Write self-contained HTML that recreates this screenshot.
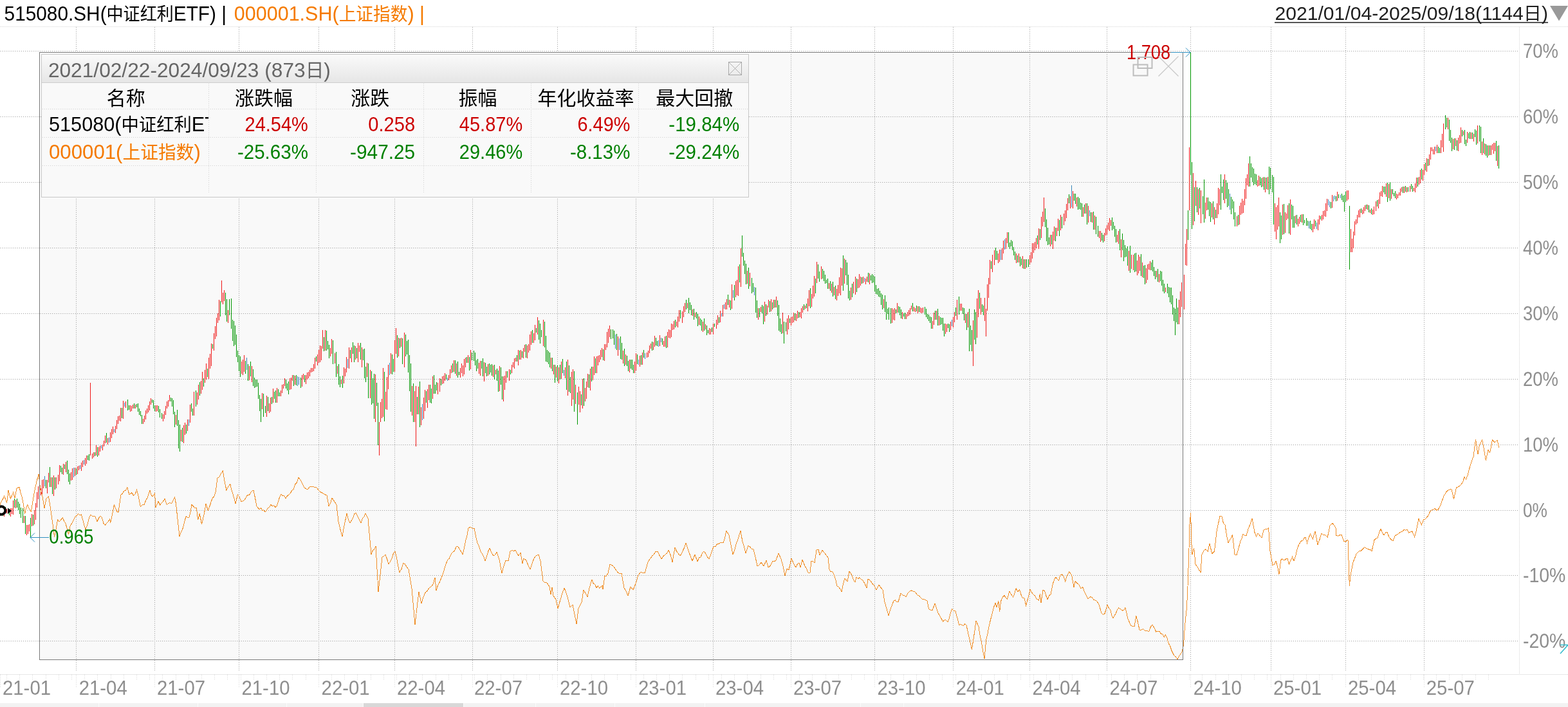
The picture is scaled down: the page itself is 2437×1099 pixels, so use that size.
<!DOCTYPE html>
<html><head><meta charset="utf-8"><title>515080.SH</title>
<style>html,body{margin:0;padding:0;background:#fff;width:2437px;height:1099px;overflow:hidden;position:relative}</style>
</head><body>
<svg width="2437" height="1099" viewBox="0 0 2437 1099" style="position:absolute;left:0;top:0;display:block">
<rect x="0" y="0" width="2437" height="1099" fill="#ffffff"/>
<rect x="63" y="83" width="1774" height="941" fill="#f9f9f9"/>
<path d="M0 79.5H2361M0 181.5H2361M0 283.5H2361M0 385.5H2361M0 487.5H2361M0 589.5H2361M0 691.5H2361M0 793.5H2361M0 894.5H2361M0 996.5H2361" stroke="#9c9c9c" stroke-width="1" stroke-dasharray="1 2" fill="none" shape-rendering="crispEdges"/>
<path d="M118.5 42V1044M240.5 42V1044M371.5 42V1044M495.5 42V1044M613.5 42V1044M734.5 42V1044M866.5 42V1044M988.5 42V1044M1108.5 42V1044M1229.5 42V1044M1359.5 42V1044M1481.5 42V1044M1600.5 42V1044M1720.5 42V1044M1850.5 42V1044M1975.5 42V1044M2091.5 42V1044M2213.5 42V1044" stroke="#9c9c9c" stroke-width="1" stroke-dasharray="1 2" fill="none" shape-rendering="crispEdges"/>
<path d="M0 41.5H2437M2361.5 42V1047" stroke="#d8d8d8" stroke-width="1" stroke-dasharray="1 1" fill="none" shape-rendering="crispEdges"/>
<path d="M0 1048.5H2437" stroke="#d0d0d0" stroke-width="1" stroke-dasharray="1 1" shape-rendering="crispEdges"/>
<path d="M10.5 1049V1056M30.5 1049V1056M50.5 1049V1056M71.5 1049V1056M91.5 1049V1056M111.5 1049V1056M131.5 1049V1056M151.5 1049V1056M172.5 1049V1056M192.5 1049V1056M212.5 1049V1056M232.5 1049V1056M252.5 1049V1056M273.5 1049V1056M293.5 1049V1056M313.5 1049V1056M333.5 1049V1056M353.5 1049V1056M374.5 1049V1056M394.5 1049V1056M414.5 1049V1056M434.5 1049V1056M454.5 1049V1056M475.5 1049V1056M495.5 1049V1056M515.5 1049V1056M535.5 1049V1056M555.5 1049V1056M576.5 1049V1056M596.5 1049V1056M616.5 1049V1056M636.5 1049V1056M656.5 1049V1056M677.5 1049V1056M697.5 1049V1056M717.5 1049V1056M737.5 1049V1056M757.5 1049V1056M778.5 1049V1056M798.5 1049V1056M818.5 1049V1056M838.5 1049V1056M858.5 1049V1056M879.5 1049V1056M899.5 1049V1056M919.5 1049V1056M939.5 1049V1056M959.5 1049V1056M980.5 1049V1056M1000.5 1049V1056M1020.5 1049V1056M1040.5 1049V1056M1060.5 1049V1056M1081.5 1049V1056M1101.5 1049V1056M1121.5 1049V1056M1141.5 1049V1056M1161.5 1049V1056M1182.5 1049V1056M1202.5 1049V1056M1222.5 1049V1056M1242.5 1049V1056M1262.5 1049V1056M1283.5 1049V1056M1303.5 1049V1056M1323.5 1049V1056M1343.5 1049V1056M1363.5 1049V1056M1384.5 1049V1056M1404.5 1049V1056M1424.5 1049V1056M1444.5 1049V1056M1464.5 1049V1056M1485.5 1049V1056M1505.5 1049V1056M1525.5 1049V1056M1545.5 1049V1056M1565.5 1049V1056M1586.5 1049V1056M1606.5 1049V1056M1626.5 1049V1056M1646.5 1049V1056M1666.5 1049V1056M1687.5 1049V1056M1707.5 1049V1056M1727.5 1049V1056M1747.5 1049V1056M1767.5 1049V1056M1788.5 1049V1056M1808.5 1049V1056M1828.5 1049V1056M1848.5 1049V1056M1868.5 1049V1056M1889.5 1049V1056M1909.5 1049V1056M1929.5 1049V1056M1949.5 1049V1056M1969.5 1049V1056M1990.5 1049V1056M2010.5 1049V1056M2030.5 1049V1056M2050.5 1049V1056M2070.5 1049V1056M2091.5 1049V1056M2111.5 1049V1056M2131.5 1049V1056M2151.5 1049V1056M2171.5 1049V1056M2192.5 1049V1056M2212.5 1049V1056M2232.5 1049V1056M2252.5 1049V1056M2272.5 1049V1056M2293.5 1049V1056M2313.5 1049V1056M0.5 1049V1068M118.5 1049V1068M240.5 1049V1068M371.5 1049V1068M495.5 1049V1068M613.5 1049V1068M734.5 1049V1068M866.5 1049V1068M988.5 1049V1068M1108.5 1049V1068M1229.5 1049V1068M1359.5 1049V1068M1481.5 1049V1068M1600.5 1049V1068M1720.5 1049V1068M1850.5 1049V1068M1975.5 1049V1068M2091.5 1049V1068M2213.5 1049V1068" stroke="#d4d4d4" stroke-width="1" stroke-dasharray="1 2" fill="none" shape-rendering="crispEdges"/>
<path d="M47.5 805V835M279.5 660V702M405.5 620V656M1826.5 480V521M1846.5 327V373M1850.5 81V272M1860.5 291V330M1869.5 305V333M1897.5 271V326M1972.5 259V302M2246.5 179V201M4.5 790V802M8.5 788V798M12.5 791V797M14.5 791V801M22.5 775V789M26.5 775V789M28.5 780V793M30.5 783V799M32.5 789V805M35.5 790V813M39.5 802V830M51.5 800V817M61.5 761V772M71.5 746V759M77.5 726V757M81.5 742V768M85.5 742V761M94.5 724V734M96.5 727V737M100.5 722V729M104.5 716V737M106.5 730V749M108.5 736V753M118.5 728V738M136.5 708V715M138.5 706V716M147.5 703V709M151.5 695V710M165.5 673V688M189.5 634V650M198.5 621V638M200.5 630V637M208.5 627V635M212.5 628V633M214.5 627V640M216.5 635V645M218.5 639V647M220.5 645V659M236.5 621V626M238.5 622V635M240.5 630V639M246.5 631V641M248.5 636V649M251.5 642V651M265.5 618V624M267.5 619V632M269.5 622V644M271.5 640V664M275.5 637V662M277.5 653V697M283.5 665V687M289.5 660V674M297.5 627V640M299.5 635V646M304.5 607V632M310.5 594V615M316.5 588V601M322.5 573V586M330.5 535V542M342.5 468V492M350.5 455V490M352.5 465V500M356.5 465V490M359.5 464V511M361.5 497V530M363.5 499V538M365.5 506V536M367.5 520V555M369.5 545V563M371.5 552V577M373.5 554V586M381.5 561V581M385.5 566V592M389.5 562V585M393.5 574V600M395.5 587V603M397.5 590V602M399.5 590V601M401.5 595V620M403.5 614V639M409.5 612V648M412.5 631V642M416.5 617V639M422.5 617V628M426.5 609V620M428.5 607V626M432.5 605V616M434.5 610V616M444.5 590V604M446.5 596V607M448.5 593V613M456.5 583V600M460.5 583V599M467.5 587V603M473.5 583V594M491.5 554V562M503.5 524V546M507.5 514V545M509.5 530V543M511.5 536V557M517.5 529V566M522.5 547V586M526.5 566V598M528.5 585V602M532.5 584V603M544.5 544V557M548.5 532V550M550.5 537V563M554.5 541V557M560.5 533V559M564.5 543V560M566.5 542V588M568.5 570V594M572.5 565V619M577.5 577V629M579.5 588V627M581.5 581V651M585.5 595V631M587.5 626V692M597.5 578V655M609.5 551V582M611.5 558V578M617.5 521V556M621.5 526V541M625.5 526V566M630.5 520V554M632.5 530V551M634.5 528V579M636.5 552V608M638.5 565V640M642.5 596V656M648.5 617V644M652.5 593V664M662.5 608V626M668.5 598V626M670.5 604V627M674.5 583V612M676.5 598V612M678.5 594V607M685.5 589V599M693.5 582V590M703.5 565V579M707.5 560V581M711.5 562V587M713.5 578V583M725.5 555V564M729.5 555V576M733.5 548V560M736.5 545V561M738.5 548V568M740.5 560V577M742.5 558V573M748.5 561V573M750.5 557V585M754.5 564V580M756.5 570V585M760.5 565V582M762.5 567V579M764.5 566V584M768.5 567V590M772.5 573V592M774.5 576V609M778.5 571V598M780.5 585V621M788.5 577V587M793.5 575V582M803.5 552V562M807.5 545V559M811.5 546V556M817.5 535V556M827.5 513V533M833.5 510V517M837.5 498V528M839.5 503V534M841.5 513V524M846.5 500V540M848.5 522V562M850.5 544V563M852.5 546V566M854.5 548V571M858.5 556V577M862.5 567V595M866.5 568V593M870.5 567V590M874.5 558V580M880.5 562V606M884.5 568V609M886.5 586V611M892.5 577V640M897.5 610V660M903.5 613V630M907.5 588V631M915.5 582V603M919.5 570V593M925.5 557V580M937.5 543V560M949.5 512V527M952.5 512V526M954.5 514V536M958.5 519V544M964.5 523V558M966.5 533V559M970.5 542V569M974.5 553V569M976.5 561V577M980.5 559V573M982.5 559V575M984.5 567V580M990.5 551V566M996.5 552V567M1000.5 544V556M1013.5 531V545M1019.5 525V537M1021.5 530V538M1029.5 526V536M1035.5 522V541M1049.5 497V509M1057.5 482V495M1066.5 466V481M1070.5 463V487M1072.5 470V482M1074.5 474V490M1078.5 480V497M1082.5 485V495M1084.5 488V507M1088.5 495V506M1090.5 497V514M1094.5 495V514M1098.5 506V521M1100.5 513V518M1106.5 509V516M1110.5 503V508M1117.5 493V502M1131.5 458V474M1135.5 467V482M1141.5 443V467M1149.5 411V439M1153.5 366V399M1155.5 393V413M1157.5 405V426M1159.5 410V442M1163.5 416V449M1168.5 432V456M1170.5 440V454M1174.5 447V486M1176.5 467V494M1180.5 479V493M1184.5 474V487M1186.5 476V504M1190.5 473V491M1196.5 468V485M1200.5 470V481M1204.5 466V478M1208.5 467V491M1210.5 474V514M1212.5 495V516M1214.5 504V519M1218.5 500V534M1221.5 501V515M1227.5 495V502M1235.5 487V498M1241.5 485V494M1249.5 473V482M1253.5 472V479M1259.5 448V479M1267.5 433V456M1271.5 411V433M1273.5 422V438M1278.5 418V433M1280.5 421V437M1282.5 427V441M1284.5 435V440M1286.5 433V449M1290.5 437V452M1294.5 438V461M1298.5 444V465M1310.5 397V452M1314.5 404V428M1316.5 408V443M1318.5 427V464M1320.5 452V467M1324.5 441V462M1331.5 433V454M1339.5 431V441M1349.5 424V439M1353.5 428V436M1355.5 426V440M1357.5 428V439M1359.5 430V453M1361.5 443V457M1363.5 449V458M1365.5 448V461M1367.5 452V462M1369.5 456V474M1371.5 458V481M1375.5 459V485M1377.5 469V497M1379.5 480V488M1381.5 478V497M1384.5 479V503M1392.5 481V487M1396.5 476V486M1398.5 477V490M1400.5 481V495M1404.5 487V492M1406.5 486V496M1418.5 471V484M1424.5 475V484M1428.5 476V485M1437.5 477V489M1439.5 480V493M1441.5 488V496M1443.5 489V499M1445.5 492V502M1447.5 493V511M1453.5 483V497M1457.5 480V506M1461.5 493V505M1463.5 494V504M1465.5 494V514M1467.5 503V523M1473.5 503V510M1475.5 504V516M1485.5 478V491M1490.5 461V489M1496.5 478V488M1498.5 479V498M1502.5 488V513M1506.5 480V546M1508.5 506V536M1510.5 513V546M1514.5 481V528M1516.5 485V535M1522.5 455V480M1526.5 473V485M1528.5 475V490M1540.5 406V418M1547.5 385V404M1549.5 390V404M1567.5 361V384M1569.5 377V387M1571.5 373V383M1573.5 375V389M1575.5 384V397M1577.5 391V404M1581.5 397V408M1585.5 399V414M1587.5 402V412M1591.5 403V418M1595.5 403V416M1598.5 403V415M1612.5 366V380M1616.5 356V373M1624.5 324V353M1626.5 341V375M1628.5 354V381M1630.5 369V380M1634.5 365V380M1640.5 354V375M1646.5 342V367M1650.5 337V355M1661.5 302V316M1669.5 301V312M1671.5 301V317M1675.5 306V326M1677.5 308V325M1679.5 315V326M1681.5 316V337M1685.5 318V332M1689.5 316V349M1695.5 330V345M1699.5 329V357M1703.5 337V364M1706.5 351V368M1712.5 362V374M1714.5 365V377M1728.5 338V358M1730.5 345V356M1732.5 351V368M1734.5 356V377M1740.5 356V389M1744.5 363V389M1746.5 373V406M1748.5 381V400M1750.5 386V399M1752.5 383V413M1756.5 382V424M1763.5 394V423M1765.5 393V422M1773.5 395V429M1777.5 413V432M1779.5 412V442M1789.5 408V420M1791.5 404V422M1793.5 415V429M1795.5 421V434M1799.5 418V438M1803.5 421V437M1805.5 422V444M1807.5 435V453M1809.5 441V456M1814.5 441V456M1816.5 446V462M1818.5 447V470M1820.5 447V473M1822.5 459V489M1824.5 478V499M1828.5 464V501M1830.5 478V504M1852.5 252V356M1856.5 291V344M1864.5 292V324M1871.5 279V346M1877.5 307V326M1879.5 313V336M1881.5 314V345M1885.5 313V341M1889.5 326V339M1899.5 290V300M1901.5 279V311M1905.5 280V309M1907.5 284V322M1909.5 294V320M1913.5 306V333M1915.5 310V324M1917.5 313V341M1919.5 330V352M1924.5 334V350M1942.5 243V290M1944.5 254V276M1946.5 260V283M1948.5 262V288M1950.5 270V286M1952.5 271V288M1958.5 275V288M1960.5 277V291M1964.5 275V295M1968.5 276V294M1974.5 261V294M1977.5 272V299M1979.5 275V349M1989.5 330V378M1991.5 335V372M1995.5 317V364M2003.5 316V363M2007.5 318V341M2009.5 320V354M2011.5 336V354M2015.5 334V349M2021.5 334V345M2025.5 333V350M2027.5 342V347M2030.5 339V351M2032.5 343V351M2036.5 343V356M2038.5 348V358M2044.5 343V352M2052.5 336V341M2068.5 314V324M2076.5 305V313M2080.5 302V308M2085.5 301V311M2087.5 304V314M2089.5 303V329M2091.5 298V314M2097.5 320V419M2115.5 324V331M2123.5 318V325M2127.5 319V330M2131.5 324V333M2140.5 311V321M2150.5 290V299M2152.5 290V302M2156.5 284V314M2160.5 283V312M2164.5 294V302M2166.5 300V305M2168.5 297V308M2180.5 290V300M2184.5 289V298M2188.5 291V298M2193.5 286V294M2195.5 289V298M2203.5 276V290M2209.5 262V279M2215.5 253V265M2219.5 247V258M2235.5 228V238M2237.5 230V238M2248.5 183V198M2252.5 186V219M2254.5 202V222M2256.5 214V235M2260.5 215V233M2264.5 218V234M2272.5 202V212M2276.5 202V224M2278.5 217V227M2282.5 207V215M2284.5 205V216M2288.5 206V216M2292.5 201V213M2294.5 203V225M2299.5 195V220M2301.5 197V238M2305.5 215V238M2309.5 224V242M2311.5 226V245M2315.5 226V241M2325.5 219V250M2329.5 226V262" stroke="#009600" stroke-width="1" fill="none" shape-rendering="crispEdges"/>
<path d="M0.5 790V798M2.5 792V798M6.5 791V803M10.5 791V798M16.5 790V803M18.5 790V799M20.5 778V800M24.5 777V790M37.5 802V813M41.5 816V832M43.5 816V830M45.5 815V826M49.5 799V818M53.5 793V815M55.5 782V808M57.5 765V789M59.5 756V776M63.5 759V770M65.5 746V768M67.5 745V759M73.5 746V767M75.5 735V750M79.5 742V757M83.5 739V771M87.5 742V759M90.5 738V753M92.5 723V748M98.5 721V738M102.5 718V734M110.5 734V747M112.5 728V746M116.5 727V740M120.5 725V737M122.5 724V731M126.5 719V732M128.5 716V726M132.5 712V724M134.5 708V721M140.5 595V708M143.5 705V713M145.5 703V711M149.5 692V708M153.5 695V708M155.5 693V702M159.5 691V700M161.5 685V694M163.5 677V689M167.5 681V691M171.5 672V687M173.5 667V681M175.5 663V675M179.5 662V673M181.5 653V667M183.5 647V659M185.5 646V654M187.5 634V655M191.5 623V651M195.5 624V634M202.5 630V640M204.5 631V639M206.5 629V635M210.5 629V635M222.5 651V659M224.5 646V656M226.5 638V652M228.5 635V643M230.5 630V641M232.5 624V638M234.5 619V629M242.5 630V640M244.5 630V639M253.5 644V655M255.5 639V651M257.5 631V645M259.5 624V635M261.5 622V632M263.5 614V624M273.5 645V660M281.5 668V686M285.5 661V689M287.5 657V676M291.5 652V670M295.5 629V657M301.5 609V646M306.5 610V629M308.5 598V621M312.5 592V612M314.5 578V606M318.5 575V595M320.5 565V590M324.5 556V589M326.5 550V573M328.5 534V569M332.5 518V545M334.5 507V527M336.5 494V523M338.5 487V502M340.5 466V498M344.5 436V470M346.5 455V473M348.5 451V468M354.5 482V502M375.5 562V581M377.5 559V583M379.5 552V578M387.5 569V591M391.5 569V594M407.5 611V636M414.5 615V648M418.5 627V642M420.5 618V640M424.5 604V626M430.5 603V626M436.5 607V616M438.5 598V611M440.5 597V604M442.5 588V600M450.5 588V606M452.5 587V605M454.5 583V592M458.5 584V598M469.5 583V601M471.5 581V590M475.5 583V597M477.5 579V590M479.5 578V588M481.5 575V585M483.5 572V579M485.5 572V578M487.5 566V577M489.5 556V573M493.5 551V568M495.5 544V564M497.5 537V563M499.5 538V560M501.5 513V542M505.5 513V545M513.5 541V554M515.5 527V550M520.5 549V565M524.5 569V581M530.5 590V597M534.5 571V596M536.5 573V585M538.5 555V579M542.5 540V573M546.5 540V563M552.5 538V559M556.5 533V563M558.5 537V547M562.5 540V571M570.5 564V586M575.5 575V619M583.5 582V656M591.5 625V656M593.5 620V650M595.5 572V648M599.5 609V636M601.5 586V637M603.5 567V605M607.5 549V581M613.5 529V578M615.5 510V550M619.5 525V554M623.5 525V539M628.5 517V571M640.5 600V646M644.5 608V656M650.5 601V644M654.5 633V661M658.5 618V651M660.5 606V639M664.5 605V634M666.5 598V622M672.5 585V620M680.5 595V613M683.5 588V609M687.5 585V597M689.5 584V596M691.5 580V592M697.5 583V591M699.5 574V588M701.5 568V580M705.5 560V578M709.5 565V584M715.5 572V587M717.5 565V580M719.5 568V585M721.5 558V582M723.5 556V571M727.5 552V564M731.5 544V574M744.5 564V581M746.5 561V584M752.5 563V593M758.5 566V584M766.5 568V586M770.5 575V582M776.5 569V608M782.5 585V624M784.5 584V606M786.5 577V595M791.5 574V592M795.5 567V580M797.5 563V571M799.5 557V573M801.5 556V562M805.5 544V568M809.5 544V559M813.5 541V557M815.5 536V547M819.5 537V557M821.5 535V548M823.5 520V545M825.5 515V536M829.5 518V533M831.5 505V529M835.5 493V520M844.5 497V538M856.5 556V573M860.5 567V582M864.5 570V587M868.5 571V596M872.5 562V589M878.5 571V588M882.5 559V615M888.5 578V631M890.5 574V621M894.5 598V628M899.5 601V629M901.5 608V641M905.5 589V635M909.5 603V624M911.5 593V620M913.5 581V602M917.5 573V607M921.5 570V591M923.5 554V583M927.5 554V580M929.5 553V568M931.5 552V563M933.5 544V559M935.5 541V555M939.5 535V561M941.5 535V544M943.5 516V540M945.5 511V533M947.5 506V524M960.5 523V553M968.5 545V565M972.5 551V567M978.5 559V579M986.5 562V580M988.5 549V576M994.5 553V570M998.5 548V567M1005.5 548V556M1007.5 545V555M1009.5 537V549M1011.5 534V542M1015.5 532V544M1017.5 522V539M1025.5 521V538M1031.5 530V539M1033.5 523V539M1037.5 516V540M1039.5 512V525M1041.5 513V526M1043.5 503V524M1045.5 504V513M1047.5 499V512M1051.5 500V507M1053.5 492V509M1055.5 482V500M1060.5 484V502M1062.5 476V493M1064.5 471V485M1068.5 471V479M1076.5 481V491M1080.5 486V493M1086.5 492V505M1092.5 500V516M1096.5 504V512M1102.5 510V520M1104.5 511V520M1108.5 503V520M1113.5 497V511M1115.5 490V505M1119.5 483V501M1123.5 474V492M1127.5 470V481M1129.5 465V481M1133.5 466V478M1137.5 442V480M1143.5 437V462M1145.5 435V459M1147.5 414V460M1151.5 386V446M1161.5 421V441M1165.5 424V445M1178.5 479V497M1182.5 477V485M1188.5 469V500M1192.5 475V489M1194.5 466V478M1198.5 465V484M1202.5 466V479M1206.5 461V478M1216.5 486V518M1223.5 495V520M1225.5 490V512M1229.5 493V506M1231.5 492V502M1233.5 486V501M1237.5 488V499M1239.5 483V495M1243.5 485V493M1245.5 479V495M1247.5 476V486M1251.5 475V480M1255.5 464V484M1257.5 451V476M1261.5 457V477M1263.5 444V464M1265.5 429V461M1269.5 407V440M1276.5 414V434M1288.5 440V449M1292.5 441V455M1296.5 446V459M1300.5 449V467M1302.5 443V460M1304.5 431V456M1306.5 416V459M1308.5 417V444M1312.5 402V441M1322.5 447V466M1326.5 438V456M1329.5 430V458M1333.5 434V448M1335.5 426V447M1337.5 430V444M1341.5 430V440M1345.5 433V442M1347.5 430V438M1351.5 425V442M1373.5 465V479M1386.5 479V502M1388.5 481V497M1390.5 479V498M1394.5 471V486M1402.5 485V496M1408.5 488V496M1410.5 485V492M1412.5 482V491M1414.5 479V489M1416.5 475V481M1420.5 477V484M1422.5 479V485M1426.5 476V487M1430.5 478V486M1432.5 479V487M1434.5 478V486M1449.5 499V511M1451.5 486V505M1455.5 483V497M1459.5 491V506M1469.5 503V519M1471.5 504V516M1477.5 500V513M1481.5 493V509M1483.5 485V501M1487.5 466V497M1492.5 472V483M1494.5 472V483M1500.5 488V502M1504.5 485V509M1512.5 498V569M1518.5 464V525M1520.5 451V493M1524.5 463V489M1530.5 463V499M1534.5 442V483M1536.5 432V463M1538.5 404V442M1542.5 396V423M1545.5 389V412M1551.5 394V409M1553.5 388V407M1557.5 386V404M1559.5 374V394M1563.5 370V387M1565.5 361V378M1579.5 394V409M1583.5 394V408M1589.5 398V417M1593.5 403V418M1600.5 397V411M1602.5 392V408M1604.5 378V402M1606.5 378V393M1608.5 376V389M1610.5 370V386M1614.5 355V387M1618.5 337V370M1620.5 329V352M1622.5 307V345M1632.5 365V383M1636.5 360V387M1638.5 352V374M1642.5 354V367M1644.5 340V359M1648.5 334V358M1653.5 332V350M1655.5 327V344M1657.5 317V339M1659.5 308V327M1663.5 305V324M1667.5 297V324M1673.5 307V321M1683.5 322V337M1687.5 316V332M1691.5 320V346M1697.5 330V346M1701.5 335V357M1708.5 359V370M1710.5 359V376M1716.5 362V375M1718.5 355V366M1720.5 350V365M1722.5 346V357M1724.5 339V359M1726.5 342V351M1736.5 365V376M1738.5 359V379M1742.5 372V400M1754.5 390V421M1758.5 396V418M1761.5 396V420M1767.5 405V428M1769.5 396V425M1771.5 399V421M1775.5 408V431M1781.5 417V440M1783.5 411V435M1785.5 410V419M1787.5 406V420M1797.5 421V431M1801.5 426V439M1811.5 447V454M1832.5 466V504M1834.5 453V493M1836.5 439V477M1838.5 436V466M1840.5 427V481M1842.5 379V412M1844.5 356V413M1848.5 229V327M1854.5 269V350M1858.5 281V320M1866.5 296V347M1873.5 315V340M1875.5 307V327M1883.5 316V338M1887.5 322V349M1891.5 316V339M1893.5 292V333M1895.5 294V319M1903.5 271V316M1922.5 336V352M1926.5 320V349M1928.5 315V334M1930.5 309V332M1932.5 312V331M1934.5 294V319M1936.5 277V309M1938.5 271V288M1940.5 254V290M1954.5 280V290M1956.5 273V289M1962.5 276V290M1966.5 276V299M1970.5 275V295M1981.5 316V360M1983.5 322V372M1985.5 319V357M1987.5 307V352M1993.5 318V365M1997.5 330V362M1999.5 332V342M2001.5 319V340M2005.5 310V365M2013.5 335V347M2017.5 340V352M2019.5 337V348M2023.5 333V346M2040.5 348V361M2042.5 341V356M2048.5 341V358M2050.5 335V349M2054.5 334V343M2056.5 328V341M2058.5 327V336M2060.5 316V337M2062.5 309V328M2070.5 303V323M2078.5 298V312M2099.5 356V392M2101.5 371V392M2103.5 360V386M2105.5 344V366M2107.5 341V349M2109.5 334V347M2111.5 327V338M2113.5 325V338M2117.5 326V333M2119.5 322V332M2121.5 319V328M2125.5 318V326M2129.5 326V331M2133.5 326V334M2135.5 321V333M2138.5 313V328M2142.5 310V324M2144.5 299V317M2146.5 297V305M2148.5 289V306M2154.5 285V306M2158.5 286V308M2162.5 294V309M2170.5 301V310M2172.5 302V308M2174.5 299V304M2176.5 293V304M2178.5 291V298M2182.5 290V300M2186.5 291V299M2191.5 289V298M2197.5 292V297M2199.5 285V299M2201.5 276V292M2205.5 275V287M2207.5 264V285M2211.5 264V281M2213.5 255V272M2217.5 246V267M2221.5 240V257M2223.5 229V248M2225.5 229V235M2227.5 232V240M2229.5 228V240M2233.5 225V238M2239.5 218V238M2241.5 208V229M2250.5 183V201M2258.5 216V232M2262.5 215V227M2266.5 214V235M2268.5 210V223M2270.5 198V222M2274.5 204V210M2280.5 205V222M2286.5 206V216M2290.5 208V220M2296.5 195V223M2303.5 220V241M2307.5 223V240M2313.5 226V242M2317.5 226V241M2319.5 224V233M2321.5 222V239M2323.5 222V235M2327.5 227V258M589.5 656V708M646.5 600V694M1532.5 480V523M1862.5 294V334M2093.5 296V312M2095.5 296V310M2243.5 192V236" stroke="#f01818" stroke-width="1" fill="none" shape-rendering="crispEdges"/>
<path d="M1665.5 288V322M69.5 740V756M114.5 727V742M124.5 723V729M130.5 715V722M157.5 692V697M169.5 680V688M177.5 667V672M193.5 626V632M293.5 652V662M383.5 556V575M462.5 585V600M464.5 586V598M540.5 558V572M605.5 564V583M656.5 628V653M695.5 587V592M876.5 575V584M956.5 520V542M962.5 526V544M992.5 559V567M1002.5 549V558M1023.5 529V539M1027.5 525V532M1121.5 487V492M1125.5 473V480M1139.5 451V463M1172.5 446V459M1343.5 432V438M1479.5 497V507M1555.5 388V404M1561.5 372V388M1693.5 327V336M1911.5 301V326M2034.5 344V355M2046.5 346V356M2064.5 310V319M2066.5 313V322M2072.5 305V313M2074.5 304V310M2083.5 303V308M2231.5 228V235" stroke="#3a86b8" stroke-width="1" fill="none" shape-rendering="crispEdges"/>
<path d="M0.0 785.0 L2.2 779.2 L4.4 775.9 L6.6 771.0 L8.6 775.9 L10.7 782.0 L13.0 762.0 L16.4 775.0 L18.4 770.8 L20.5 765.6 L23.0 774.0 L26.0 759.0 L30.0 757.4 L32.2 766.3 L34.5 774.0 L36.5 784.3 L38.6 798.5 L40.7 789.4 L42.7 784.5 L45.5 791.2 L48.4 795.0 L51.2 777.4 L54.0 762.0 L57.0 748.3 L60.0 737.0 L63.0 762.0 L65.7 770.6 L69.0 790.0 L72.0 775.0 L75.5 772.0 L78.8 792.0 L82.0 815.0 L84.5 834.6 L87.0 823.5 L89.5 808.0 L92.0 811.0 L94.8 807.9 L97.7 805.0 L99.8 810.5 L101.8 813.0 L104.2 821.9 L106.7 831.0 L109.0 818.0 L112.0 813.0 L115.0 806.7 L117.2 802.4 L119.3 801.8 L121.5 798.5 L124.0 800.9 L126.4 800.0 L128.6 807.8 L130.8 816.4 L133.0 823.0 L135.7 816.1 L138.3 805.7 L141.0 800.0 L143.2 802.0 L145.5 802.1 L147.7 802.6 L151.0 810.8 L153.5 805.4 L156.0 801.8 L158.4 804.6 L160.9 813.2 L163.3 816.5 L165.8 813.1 L168.2 810.9 L170.7 806.7 L171.5 813.0 L174.4 800.7 L177.3 785.0 L179.5 789.9 L181.6 794.9 L183.8 797.0 L185.9 782.5 L188.0 769.0 L190.4 767.4 L192.9 763.0 L195.4 762.2 L197.8 757.4 L201.0 769.0 L205.0 765.6 L207.6 770.6 L210.1 767.7 L212.6 761.5 L215.4 772.9 L218.3 787.8 L221.2 784.8 L224.0 785.0 L226.5 778.2 L229.0 773.9 L233.0 762.4 L235.1 769.2 L237.2 772.0 L240.5 767.0 L242.0 788.6 L246.0 779.6 L248.7 785.0 L251.1 781.6 L253.6 779.2 L256.0 775.5 L259.3 784.5 L262.6 782.0 L264.6 781.6 L266.7 782.9 L269.1 778.0 L271.6 773.0 L273.3 782.0 L276.1 807.4 L279.0 833.8 L281.5 827.0 L284.0 821.5 L286.5 812.4 L289.0 802.6 L291.4 804.2 L293.8 805.0 L295.9 796.5 L298.0 784.5 L300.4 787.0 L302.9 789.7 L305.3 789.5 L307.7 808.3 L310.2 798.5 L313.5 815.0 L315.7 805.9 L317.8 795.8 L320.0 783.0 L323.3 793.6 L325.6 787.8 L328.0 780.4 L330.3 774.0 L332.7 772.1 L335.0 765.6 L338.0 742.7 L340.1 742.1 L342.1 739.1 L344.2 735.0 L346.3 732.0 L349.1 748.1 L352.0 762.4 L354.9 756.2 L357.8 752.5 L359.9 761.6 L361.9 768.1 L363.9 774.4 L366.0 783.0 L369.3 769.0 L372.1 772.4 L375.0 779.6 L377.5 779.0 L380.0 777.4 L382.5 773.0 L384.8 769.1 L387.1 770.1 L389.4 766.2 L391.7 763.0 L394.0 762.4 L396.5 773.8 L399.0 787.0 L401.2 789.7 L403.3 791.6 L405.5 789.5 L407.7 793.5 L409.8 792.5 L412.0 796.0 L414.2 794.0 L416.5 789.3 L418.8 788.7 L421.0 784.0 L423.2 786.9 L425.5 785.5 L427.8 788.4 L430.0 787.0 L432.3 779.8 L434.7 772.5 L437.0 768.0 L439.3 770.8 L441.7 770.6 L444.0 775.0 L446.4 770.9 L448.8 769.0 L451.2 767.1 L453.6 762.3 L456.0 761.0 L458.7 752.7 L461.3 750.0 L464.0 742.0 L467.0 746.2 L470.0 752.0 L473.0 758.0 L476.0 760.0 L478.7 760.4 L481.3 756.8 L484.0 756.0 L486.7 756.5 L489.3 757.4 L492.0 758.0 L496.0 763.0 L498.4 765.0 L500.8 766.2 L503.2 767.5 L505.6 769.1 L508.0 770.0 L511.0 787.0 L513.5 782.4 L516.0 774.0 L518.3 777.7 L520.7 781.0 L523.0 785.0 L526.0 811.0 L529.0 823.5 L532.0 834.0 L534.3 820.8 L536.7 809.1 L539.0 798.0 L541.5 807.6 L544.0 813.0 L546.2 809.1 L548.5 805.2 L550.8 798.9 L553.0 797.0 L555.7 802.0 L558.3 808.0 L561.0 813.0 L563.3 805.9 L565.7 803.5 L568.0 798.0 L572.0 806.0 L574.5 834.6 L577.0 862.0 L579.3 855.7 L581.7 853.9 L584.0 849.0 L588.0 920.0 L591.0 892.9 L594.0 866.0 L596.5 864.8 L599.0 862.0 L601.5 868.9 L604.0 877.0 L606.5 872.9 L609.0 868.0 L611.5 859.9 L614.0 857.0 L616.3 866.1 L618.7 879.8 L621.0 890.0 L624.0 884.5 L627.0 875.0 L629.7 877.2 L632.3 881.5 L635.0 885.0 L637.5 900.4 L640.0 915.0 L642.5 942.2 L645.0 971.0 L648.0 944.9 L651.0 920.0 L655.0 938.0 L657.5 929.7 L660.0 923.0 L662.2 919.9 L664.3 918.4 L666.5 914.6 L668.7 912.5 L670.8 911.7 L673.0 908.0 L676.0 898.0 L678.0 918.0 L680.7 909.3 L683.3 905.0 L686.0 898.0 L688.5 892.0 L691.0 883.2 L693.5 875.8 L696.0 870.0 L698.1 868.3 L700.3 862.9 L702.4 859.6 L704.6 857.7 L706.7 855.9 L708.9 850.2 L711.0 849.0 L713.7 852.5 L716.3 856.9 L719.0 862.0 L721.2 853.2 L723.5 841.2 L725.8 832.8 L728.0 821.0 L730.2 819.5 L732.5 820.3 L734.8 821.7 L737.0 821.0 L740.0 836.0 L742.3 844.7 L744.7 849.8 L747.0 857.0 L749.3 860.8 L751.7 865.3 L754.0 872.0 L756.3 865.5 L758.7 857.3 L761.0 852.0 L764.0 859.3 L767.0 864.0 L769.5 862.5 L772.0 858.0 L776.0 870.0 L780.0 891.0 L783.0 879.6 L786.0 871.0 L790.0 872.0 L793.0 857.0 L795.7 855.4 L798.3 857.0 L801.0 855.0 L803.5 860.1 L806.0 864.0 L809.0 859.0 L812.0 876.0 L814.0 868.0 L818.0 871.0 L821.0 879.3 L824.0 885.0 L827.0 875.8 L830.0 868.0 L832.3 864.4 L834.7 863.1 L837.0 862.0 L840.0 872.0 L844.0 903.0 L847.0 905.8 L850.0 906.0 L854.0 912.0 L856.0 924.0 L858.0 913.0 L860.0 926.0 L864.0 932.0 L867.0 946.0 L871.0 932.0 L874.0 922.0 L877.0 914.0 L879.5 920.3 L882.0 928.0 L886.0 944.0 L890.0 940.0 L893.0 954.6 L896.0 970.0 L899.0 946.0 L901.5 940.6 L904.0 936.0 L907.0 917.0 L910.0 922.1 L913.0 928.0 L916.0 914.0 L920.0 901.0 L922.3 907.2 L924.7 908.2 L927.0 914.0 L929.2 910.8 L931.5 914.0 L933.8 912.7 L936.0 910.0 L937.0 916.0 L940.0 895.0 L942.5 895.1 L945.0 891.0 L948.0 877.0 L951.0 878.7 L954.0 881.0 L958.0 887.0 L960.7 890.3 L963.3 891.5 L966.0 891.0 L970.0 914.0 L973.0 918.8 L976.0 926.0 L980.0 912.0 L984.0 917.0 L986.7 910.4 L989.3 903.1 L992.0 894.0 L996.0 889.0 L999.0 890.7 L1002.0 891.0 L1004.5 882.6 L1007.0 874.0 L1009.2 870.1 L1011.5 867.3 L1013.8 863.8 L1016.0 862.0 L1019.0 857.6 L1022.0 857.0 L1025.0 863.4 L1028.0 869.0 L1031.0 864.6 L1034.0 862.0 L1036.5 859.9 L1039.0 855.0 L1042.0 862.5 L1045.0 874.0 L1049.0 851.0 L1051.7 857.1 L1054.3 860.5 L1057.0 864.0 L1059.2 860.9 L1061.5 855.7 L1063.8 850.8 L1066.0 844.0 L1070.0 856.0 L1073.0 864.3 L1076.0 872.0 L1080.0 862.0 L1084.0 873.0 L1086.5 866.9 L1089.0 866.1 L1091.5 859.6 L1094.0 857.0 L1096.7 860.1 L1099.3 865.7 L1102.0 869.0 L1104.3 862.8 L1106.7 856.0 L1109.0 850.0 L1112.0 849.4 L1115.0 845.0 L1117.2 845.2 L1119.5 843.8 L1121.8 843.2 L1124.0 844.0 L1126.5 836.1 L1129.0 825.0 L1133.0 832.0 L1136.0 846.9 L1139.0 862.0 L1141.7 855.2 L1144.3 845.3 L1147.0 838.0 L1151.0 825.0 L1154.0 842.0 L1156.5 849.7 L1159.0 860.0 L1163.0 848.0 L1165.7 850.2 L1168.3 853.4 L1171.0 854.0 L1174.0 865.6 L1177.0 880.0 L1180.0 878.3 L1183.0 874.0 L1187.0 880.0 L1191.0 871.0 L1194.0 882.0 L1196.3 880.5 L1198.7 876.7 L1201.0 872.0 L1203.5 872.9 L1206.0 871.0 L1210.0 860.0 L1214.0 869.0 L1217.0 879.8 L1220.0 895.0 L1223.0 884.0 L1226.0 886.0 L1230.0 868.0 L1232.3 873.2 L1234.7 878.9 L1237.0 882.0 L1239.5 876.5 L1242.0 875.0 L1244.0 882.0 L1247.0 870.0 L1251.0 880.0 L1253.5 884.0 L1256.0 890.0 L1259.0 890.0 L1261.0 872.0 L1263.5 872.5 L1266.0 875.0 L1269.0 855.0 L1272.0 854.0 L1274.0 863.0 L1278.0 855.0 L1280.2 858.1 L1282.5 860.7 L1284.8 863.9 L1287.0 867.0 L1289.0 885.0 L1291.3 888.9 L1293.7 888.1 L1296.0 893.0 L1298.5 900.0 L1301.0 911.0 L1303.3 912.4 L1305.7 915.3 L1308.0 920.0 L1310.5 907.6 L1313.0 899.0 L1317.0 904.0 L1320.0 888.0 L1324.0 894.0 L1326.5 901.6 L1329.0 905.0 L1331.0 897.0 L1333.5 899.8 L1336.0 897.7 L1338.5 900.8 L1341.0 902.0 L1344.0 907.2 L1347.0 914.0 L1349.0 900.0 L1351.2 901.4 L1353.5 903.8 L1355.8 907.4 L1358.0 909.0 L1362.0 917.0 L1366.0 909.0 L1369.0 913.4 L1372.0 917.0 L1375.0 936.0 L1378.0 945.9 L1381.0 957.0 L1383.7 948.0 L1386.3 940.9 L1389.0 934.0 L1391.3 933.0 L1393.7 935.6 L1396.0 936.0 L1400.0 922.0 L1402.7 925.0 L1405.3 925.5 L1408.0 928.0 L1411.0 921.7 L1414.0 919.0 L1416.7 917.9 L1419.3 919.1 L1422.0 920.0 L1424.2 922.7 L1426.5 925.7 L1428.8 926.2 L1431.0 929.0 L1434.0 931.8 L1437.0 932.0 L1441.0 934.0 L1443.5 946.5 L1446.2 948.3 L1449.0 949.0 L1453.0 938.0 L1455.5 945.2 L1458.0 953.0 L1460.5 956.8 L1463.0 961.6 L1465.5 966.0 L1469.0 963.0 L1473.0 967.0 L1475.2 961.1 L1477.3 953.0 L1479.5 946.5 L1482.2 949.1 L1485.0 950.0 L1487.8 960.6 L1490.6 971.6 L1492.9 970.5 L1495.2 971.8 L1497.4 972.5 L1499.7 969.7 L1502.0 971.6 L1505.0 986.0 L1507.8 997.7 L1510.5 1010.0 L1512.7 994.7 L1514.8 981.7 L1517.0 965.0 L1521.0 974.0 L1523.2 988.4 L1525.5 998.4 L1527.8 1013.3 L1530.0 1024.0 L1532.7 994.7 L1534.8 986.3 L1536.9 974.3 L1539.0 965.6 L1541.8 954.5 L1544.6 943.7 L1547.0 937.0 L1549.0 944.0 L1551.9 934.6 L1553.7 951.0 L1555.5 934.6 L1558.2 928.4 L1561.0 925.5 L1563.2 929.6 L1565.5 931.0 L1569.0 919.0 L1571.8 924.2 L1574.6 928.0 L1576.8 923.0 L1579.0 914.6 L1582.0 920.0 L1584.6 916.5 L1586.8 924.0 L1589.0 929.0 L1592.0 930.0 L1594.6 941.0 L1596.7 933.6 L1598.9 925.7 L1601.0 916.5 L1603.2 920.4 L1605.5 923.7 L1608.2 925.6 L1611.0 931.0 L1614.6 933.0 L1616.5 923.0 L1618.0 937.0 L1621.0 917.0 L1623.7 919.0 L1625.8 925.9 L1628.0 932.0 L1630.5 925.8 L1633.0 924.0 L1636.5 907.0 L1638.8 900.4 L1641.0 897.0 L1643.3 900.7 L1645.6 902.0 L1648.0 894.0 L1650.5 893.0 L1652.9 896.0 L1655.6 903.7 L1658.6 894.6 L1661.6 889.0 L1665.6 893.7 L1669.0 912.8 L1671.0 903.7 L1674.7 907.3 L1677.3 909.2 L1680.0 914.6 L1683.0 912.8 L1685.2 919.9 L1687.5 923.7 L1691.0 931.0 L1693.2 928.9 L1695.3 927.6 L1697.5 929.0 L1699.8 932.4 L1702.0 932.8 L1705.0 934.7 L1708.0 940.0 L1712.0 952.8 L1714.3 955.3 L1716.6 954.7 L1718.8 948.1 L1721.0 940.0 L1723.3 945.2 L1725.7 947.4 L1727.8 956.2 L1730.0 961.0 L1732.2 956.8 L1734.4 953.2 L1736.6 947.4 L1738.8 944.9 L1741.0 946.5 L1744.8 949.2 L1746.9 948.1 L1749.0 944.6 L1753.0 962.0 L1755.2 967.0 L1757.5 972.0 L1760.2 973.8 L1763.0 973.8 L1765.7 957.4 L1768.3 966.5 L1771.0 979.0 L1773.8 979.3 L1776.6 977.4 L1779.3 980.6 L1782.0 980.0 L1785.7 982.0 L1788.3 974.6 L1791.0 971.0 L1793.8 975.7 L1796.7 982.0 L1799.3 981.8 L1802.0 981.0 L1804.5 985.4 L1806.9 985.9 L1809.4 990.0 L1811.2 986.5 L1814.0 992.3 L1816.7 1001.0 L1818.8 1004.8 L1820.9 1011.2 L1823.0 1015.6 L1825.3 1019.7 L1827.7 1021.2 L1830.0 1024.7 L1832.2 1020.5 L1834.5 1017.0 L1836.7 1013.8 L1839.4 1003.8 L1841.6 971.5 L1844.0 949.0 L1845.5 925.0 L1847.5 870.0 L1849.0 815.0 L1850.6 797.0 L1852.0 846.6 L1853.0 862.0 L1855.7 851.7 L1858.0 877.0 L1860.7 880.7 L1863.3 885.3 L1866.0 890.0 L1868.0 862.0 L1870.8 856.2 L1873.5 854.0 L1877.3 857.0 L1880.0 845.0 L1883.7 860.6 L1887.5 857.0 L1891.0 826.0 L1893.5 814.0 L1896.0 802.0 L1899.0 803.0 L1901.5 813.5 L1904.0 816.0 L1906.5 832.1 L1909.0 844.0 L1911.2 839.3 L1913.3 836.4 L1915.5 831.0 L1919.0 862.0 L1922.0 863.0 L1925.5 850.4 L1927.7 842.1 L1929.8 837.6 L1932.0 830.0 L1934.5 832.4 L1937.0 832.6 L1940.0 822.4 L1943.0 815.0 L1946.0 806.0 L1950.0 827.5 L1952.5 834.0 L1955.0 828.8 L1958.0 832.5 L1961.0 836.0 L1964.0 823.7 L1966.5 822.7 L1969.1 822.5 L1971.6 821.0 L1974.0 857.0 L1978.0 878.5 L1980.5 877.0 L1983.0 872.0 L1985.5 880.7 L1988.0 892.5 L1990.7 870.8 L1992.8 868.5 L1994.8 870.8 L1996.9 871.0 L1998.9 868.6 L2001.0 868.0 L2003.4 877.0 L2006.0 871.1 L2008.5 865.7 L2011.0 872.0 L2013.6 864.5 L2016.1 853.7 L2018.7 846.6 L2020.8 843.3 L2022.8 840.6 L2024.9 840.0 L2026.9 836.5 L2029.0 835.0 L2031.5 844.0 L2034.0 835.8 L2036.6 830.0 L2040.4 837.7 L2044.0 826.0 L2048.0 846.6 L2051.0 838.5 L2054.0 828.8 L2056.8 832.0 L2059.5 831.3 L2063.3 835.0 L2067.0 817.0 L2071.0 813.5 L2073.5 816.4 L2076.0 821.0 L2077.0 832.6 L2079.7 833.1 L2082.3 831.4 L2085.0 831.3 L2088.8 841.5 L2091.4 842.1 L2093.9 839.6 L2095.0 839.6 L2096.6 889.0 L2097.3 911.0 L2099.0 894.0 L2103.0 874.0 L2105.5 867.9 L2108.0 861.0 L2110.6 858.3 L2113.1 856.4 L2115.7 856.0 L2118.0 853.6 L2120.5 850.7 L2123.0 852.0 L2125.2 853.2 L2127.5 854.0 L2129.8 854.3 L2132.0 857.0 L2136.0 839.6 L2138.5 837.2 L2141.0 836.0 L2143.5 828.2 L2146.0 822.0 L2148.5 828.2 L2151.0 832.0 L2153.5 827.9 L2156.0 827.0 L2158.8 834.7 L2161.5 838.0 L2165.0 841.0 L2168.0 833.0 L2170.2 831.4 L2172.5 830.4 L2174.8 828.4 L2177.0 827.0 L2179.5 826.5 L2182.0 823.0 L2184.5 824.4 L2187.0 823.0 L2189.6 828.0 L2192.1 827.1 L2194.6 825.6 L2198.5 834.5 L2201.0 825.6 L2205.0 806.5 L2207.2 811.2 L2209.4 816.0 L2212.5 807.8 L2215.1 806.9 L2217.6 804.0 L2220.1 801.1 L2222.7 795.0 L2225.1 792.9 L2227.6 792.7 L2230.0 790.0 L2232.5 793.3 L2235.0 792.5 L2239.0 785.0 L2241.5 777.9 L2244.0 771.0 L2248.0 764.5 L2250.7 762.0 L2253.3 760.7 L2256.0 760.6 L2259.6 776.0 L2263.4 758.0 L2265.9 757.3 L2268.5 755.4 L2271.0 753.0 L2273.5 749.3 L2276.0 741.5 L2278.7 745.0 L2281.3 737.8 L2284.0 727.5 L2287.6 716.0 L2290.0 709.7 L2293.5 683.0 L2297.0 706.0 L2299.0 694.0 L2301.3 687.9 L2303.7 684.0 L2306.5 698.6 L2309.3 716.0 L2313.0 699.5 L2315.7 703.3 L2319.5 684.0 L2323.3 688.0 L2327.0 684.0 L2329.7 695.7" stroke="#f0902c" stroke-width="1" fill="none" stroke-linejoin="miter" shape-rendering="crispEdges"/>
<rect x="61.5" y="81.5" width="1777" height="944" fill="none" stroke="#777777" stroke-width="1" shape-rendering="crispEdges"/>
<defs><linearGradient id="hg" x1="0" y1="0" x2="0" y2="1"><stop offset="0" stop-color="#fafafa"/><stop offset="1" stop-color="#e6e6e6"/></linearGradient></defs>
<rect x="64.5" y="84.5" width="1099" height="222" fill="#f9f9f9" stroke="#c8c8c8" stroke-width="1" shape-rendering="crispEdges"/>
<rect x="65" y="85" width="1098" height="43" fill="url(#hg)"/>
<path d="M65 128.5H1163" stroke="#cdcdcd" stroke-width="1" shape-rendering="crispEdges"/>
<path d="M66 169.5H1162M66 213.5H1162M66 257.5H1162M324.5 130V300M491.5 130V300M658.5 130V300M825.5 130V300M992.5 130V300" stroke="#d0d0d0" stroke-width="1" stroke-dasharray="1 2" fill="none" shape-rendering="crispEdges"/>
<rect x="1132.5" y="96.5" width="20" height="20" fill="none" stroke="#a8a8a8" stroke-width="1" shape-rendering="crispEdges"/>
<path d="M1133 97L1152 116M1152 97L1133 116" stroke="#a0a0a0" stroke-width="0.8"/>
<text x="6.6" y="32" font-family="'Liberation Sans','Noto Sans CJK SC',sans-serif" font-size="32" fill="#000000" textLength="345.4" lengthAdjust="spacingAndGlyphs" >515080.SH(<tspan font-size="28">中证红利</tspan>ETF) |</text>
<text x="363.8" y="32" font-family="'Liberation Sans','Noto Sans CJK SC',sans-serif" font-size="32" fill="#f57a00" textLength="296.2" lengthAdjust="spacingAndGlyphs" >000001.SH(<tspan font-size="28">上证指数</tspan>) |</text>
<text x="1981.5" y="31.3" font-family="'Liberation Sans','Noto Sans CJK SC',sans-serif" font-size="30" fill="#1e1e1e" textLength="424.5" lengthAdjust="spacingAndGlyphs" >2021/01/04-2025/09/18(1144<tspan font-size="28">日</tspan>)</text>
<path d="M1981 35H2406" stroke="#1e1e1e" stroke-width="1.5"/>
<polygon points="2409,9 2437,9 2423,32.5" fill="#999999"/>
<text x="2367" y="90" font-family="'Liberation Sans','Noto Sans CJK SC',sans-serif" font-size="32" fill="#8e8e8e" textLength="55" lengthAdjust="spacingAndGlyphs" >70%</text>
<text x="2367" y="192" font-family="'Liberation Sans','Noto Sans CJK SC',sans-serif" font-size="32" fill="#8e8e8e" textLength="55" lengthAdjust="spacingAndGlyphs" >60%</text>
<text x="2367" y="294" font-family="'Liberation Sans','Noto Sans CJK SC',sans-serif" font-size="32" fill="#8e8e8e" textLength="55" lengthAdjust="spacingAndGlyphs" >50%</text>
<text x="2367" y="396" font-family="'Liberation Sans','Noto Sans CJK SC',sans-serif" font-size="32" fill="#8e8e8e" textLength="55" lengthAdjust="spacingAndGlyphs" >40%</text>
<text x="2367" y="498" font-family="'Liberation Sans','Noto Sans CJK SC',sans-serif" font-size="32" fill="#8e8e8e" textLength="55" lengthAdjust="spacingAndGlyphs" >30%</text>
<text x="2367" y="600" font-family="'Liberation Sans','Noto Sans CJK SC',sans-serif" font-size="32" fill="#8e8e8e" textLength="55" lengthAdjust="spacingAndGlyphs" >20%</text>
<text x="2367" y="702" font-family="'Liberation Sans','Noto Sans CJK SC',sans-serif" font-size="32" fill="#8e8e8e" textLength="55" lengthAdjust="spacingAndGlyphs" >10%</text>
<text x="2367" y="804" font-family="'Liberation Sans','Noto Sans CJK SC',sans-serif" font-size="32" fill="#8e8e8e" textLength="38" lengthAdjust="spacingAndGlyphs" >0%</text>
<text x="2367" y="905" font-family="'Liberation Sans','Noto Sans CJK SC',sans-serif" font-size="32" fill="#8e8e8e" textLength="66.4" lengthAdjust="spacingAndGlyphs" >-10%</text>
<text x="2367" y="1007" font-family="'Liberation Sans','Noto Sans CJK SC',sans-serif" font-size="32" fill="#8e8e8e" textLength="66.4" lengthAdjust="spacingAndGlyphs" >-20%</text>
<text x="4" y="1080" font-family="'Liberation Sans','Noto Sans CJK SC',sans-serif" font-size="32" fill="#8e8e8e" textLength="75" lengthAdjust="spacingAndGlyphs" >21-01</text>
<text x="122.7" y="1080" font-family="'Liberation Sans','Noto Sans CJK SC',sans-serif" font-size="32" fill="#8e8e8e" textLength="75" lengthAdjust="spacingAndGlyphs" >21-04</text>
<text x="244" y="1080" font-family="'Liberation Sans','Noto Sans CJK SC',sans-serif" font-size="32" fill="#8e8e8e" textLength="75" lengthAdjust="spacingAndGlyphs" >21-07</text>
<text x="375.5" y="1080" font-family="'Liberation Sans','Noto Sans CJK SC',sans-serif" font-size="32" fill="#8e8e8e" textLength="75" lengthAdjust="spacingAndGlyphs" >21-10</text>
<text x="499.6" y="1080" font-family="'Liberation Sans','Noto Sans CJK SC',sans-serif" font-size="32" fill="#8e8e8e" textLength="75" lengthAdjust="spacingAndGlyphs" >22-01</text>
<text x="617" y="1080" font-family="'Liberation Sans','Noto Sans CJK SC',sans-serif" font-size="32" fill="#8e8e8e" textLength="75" lengthAdjust="spacingAndGlyphs" >22-04</text>
<text x="737" y="1080" font-family="'Liberation Sans','Noto Sans CJK SC',sans-serif" font-size="32" fill="#8e8e8e" textLength="75" lengthAdjust="spacingAndGlyphs" >22-07</text>
<text x="870" y="1080" font-family="'Liberation Sans','Noto Sans CJK SC',sans-serif" font-size="32" fill="#8e8e8e" textLength="75" lengthAdjust="spacingAndGlyphs" >22-10</text>
<text x="992" y="1080" font-family="'Liberation Sans','Noto Sans CJK SC',sans-serif" font-size="32" fill="#8e8e8e" textLength="75" lengthAdjust="spacingAndGlyphs" >23-01</text>
<text x="1112" y="1080" font-family="'Liberation Sans','Noto Sans CJK SC',sans-serif" font-size="32" fill="#8e8e8e" textLength="75" lengthAdjust="spacingAndGlyphs" >23-04</text>
<text x="1233" y="1080" font-family="'Liberation Sans','Noto Sans CJK SC',sans-serif" font-size="32" fill="#8e8e8e" textLength="75" lengthAdjust="spacingAndGlyphs" >23-07</text>
<text x="1363.5" y="1080" font-family="'Liberation Sans','Noto Sans CJK SC',sans-serif" font-size="32" fill="#8e8e8e" textLength="75" lengthAdjust="spacingAndGlyphs" >23-10</text>
<text x="1485.8" y="1080" font-family="'Liberation Sans','Noto Sans CJK SC',sans-serif" font-size="32" fill="#8e8e8e" textLength="75" lengthAdjust="spacingAndGlyphs" >24-01</text>
<text x="1604.6" y="1080" font-family="'Liberation Sans','Noto Sans CJK SC',sans-serif" font-size="32" fill="#8e8e8e" textLength="75" lengthAdjust="spacingAndGlyphs" >24-04</text>
<text x="1724.4" y="1080" font-family="'Liberation Sans','Noto Sans CJK SC',sans-serif" font-size="32" fill="#8e8e8e" textLength="75" lengthAdjust="spacingAndGlyphs" >24-07</text>
<text x="1854.8" y="1080" font-family="'Liberation Sans','Noto Sans CJK SC',sans-serif" font-size="32" fill="#8e8e8e" textLength="75" lengthAdjust="spacingAndGlyphs" >24-10</text>
<text x="1979" y="1080" font-family="'Liberation Sans','Noto Sans CJK SC',sans-serif" font-size="32" fill="#8e8e8e" textLength="75" lengthAdjust="spacingAndGlyphs" >25-01</text>
<text x="2095" y="1080" font-family="'Liberation Sans','Noto Sans CJK SC',sans-serif" font-size="32" fill="#8e8e8e" textLength="75" lengthAdjust="spacingAndGlyphs" >25-04</text>
<text x="2216.8" y="1080" font-family="'Liberation Sans','Noto Sans CJK SC',sans-serif" font-size="32" fill="#8e8e8e" textLength="75" lengthAdjust="spacingAndGlyphs" >25-07</text>
<rect x="0" y="1093" width="2437" height="6" fill="#f2f2f2"/>
<rect x="565" y="1093" width="155" height="6" fill="#d8d8d8"/>
<path d="M153.5 1093V1099M307.5 1093V1099M445.5 1093V1099M564.5 1093V1099M720.5 1093V1099M832.5 1093V1099M955.5 1093V1099M1095.5 1093V1099M1337.5 1093V1099M1404.5 1093V1099" stroke="#fbfbfb" stroke-width="1" shape-rendering="crispEdges"/>
<text x="74.9" y="119.8" font-family="'Liberation Sans','Noto Sans CJK SC',sans-serif" font-size="32" fill="#666666" textLength="439" lengthAdjust="spacingAndGlyphs" >2021/02/22-2024/09/23 (873<tspan font-size="29">日</tspan>)</text>
<text x="195.7" y="163" font-family="'Liberation Sans','Noto Sans CJK SC',sans-serif" font-size="30" fill="#000000" text-anchor="middle" >名称</text>
<text x="409.9" y="163" font-family="'Liberation Sans','Noto Sans CJK SC',sans-serif" font-size="30" fill="#000000" text-anchor="middle" >涨跌幅</text>
<text x="575.3" y="163" font-family="'Liberation Sans','Noto Sans CJK SC',sans-serif" font-size="30" fill="#000000" text-anchor="middle" >涨跌</text>
<text x="742.5" y="163" font-family="'Liberation Sans','Noto Sans CJK SC',sans-serif" font-size="30" fill="#000000" text-anchor="middle" >振幅</text>
<text x="910.5" y="163" font-family="'Liberation Sans','Noto Sans CJK SC',sans-serif" font-size="30" fill="#000000" text-anchor="middle" >年化收益率</text>
<text x="1079.2" y="163" font-family="'Liberation Sans','Noto Sans CJK SC',sans-serif" font-size="30" fill="#000000" text-anchor="middle" >最大回撤</text>
<clipPath id="c1"><rect x="65" y="170" width="259" height="100"/></clipPath>
<text x="76" y="203.8" font-family="'Liberation Sans','Noto Sans CJK SC',sans-serif" font-size="32" fill="#000000" textLength="290" lengthAdjust="spacingAndGlyphs" clip-path="url(#c1)">515080(<tspan font-size="28.5">中证红利</tspan>ETF)</text>
<text x="76" y="246.8" font-family="'Liberation Sans','Noto Sans CJK SC',sans-serif" font-size="32" fill="#f57a00" textLength="236" lengthAdjust="spacingAndGlyphs" >000001(<tspan font-size="28.5">上证指数</tspan>)</text>
<text x="380.5" y="203.8" font-family="'Liberation Sans','Noto Sans CJK SC',sans-serif" font-size="32" fill="#cc0000" textLength="98.4" lengthAdjust="spacingAndGlyphs" >24.54%</text>
<text x="572.2" y="203.8" font-family="'Liberation Sans','Noto Sans CJK SC',sans-serif" font-size="32" fill="#cc0000" textLength="72.9" lengthAdjust="spacingAndGlyphs" >0.258</text>
<text x="713.8" y="203.8" font-family="'Liberation Sans','Noto Sans CJK SC',sans-serif" font-size="32" fill="#cc0000" textLength="98.4" lengthAdjust="spacingAndGlyphs" >45.87%</text>
<text x="897.5" y="203.8" font-family="'Liberation Sans','Noto Sans CJK SC',sans-serif" font-size="32" fill="#cc0000" textLength="81.9" lengthAdjust="spacingAndGlyphs" >6.49%</text>
<text x="1039.3" y="203.8" font-family="'Liberation Sans','Noto Sans CJK SC',sans-serif" font-size="32" fill="#008000" textLength="110.0" lengthAdjust="spacingAndGlyphs" >-19.84%</text>
<text x="368.9" y="246.8" font-family="'Liberation Sans','Noto Sans CJK SC',sans-serif" font-size="32" fill="#008000" textLength="110.0" lengthAdjust="spacingAndGlyphs" >-25.63%</text>
<text x="544.1" y="246.8" font-family="'Liberation Sans','Noto Sans CJK SC',sans-serif" font-size="32" fill="#008000" textLength="101.0" lengthAdjust="spacingAndGlyphs" >-947.25</text>
<text x="713.8" y="246.8" font-family="'Liberation Sans','Noto Sans CJK SC',sans-serif" font-size="32" fill="#008000" textLength="98.4" lengthAdjust="spacingAndGlyphs" >29.46%</text>
<text x="885.9" y="246.8" font-family="'Liberation Sans','Noto Sans CJK SC',sans-serif" font-size="32" fill="#008000" textLength="93.5" lengthAdjust="spacingAndGlyphs" >-8.13%</text>
<text x="1039.3" y="246.8" font-family="'Liberation Sans','Noto Sans CJK SC',sans-serif" font-size="32" fill="#008000" textLength="110.0" lengthAdjust="spacingAndGlyphs" >-29.24%</text>
<text x="1751" y="92" font-family="'Liberation Sans','Noto Sans CJK SC',sans-serif" font-size="32" fill="#cc0000" textLength="68" lengthAdjust="spacingAndGlyphs" >1.708</text>
<path d="M1820 81.5H1850M1843 74.5L1850 81.5L1843 88.5" stroke="#2f8fbf" stroke-width="1" fill="none"/>
<rect x="1768.5" y="89" width="22" height="17" fill="none" stroke="#bdbdbd" stroke-width="2"/>
<rect x="1761.5" y="100.5" width="22" height="17" fill="none" stroke="#bdbdbd" stroke-width="2"/>
<path d="M1800.5 118.5L1831.5 87.5M1800.5 87.5L1831.5 118.5" stroke="#c8c8c8" stroke-width="1.2"/>
<path d="M76 835.5H47M54 828.5L47 835.5L54 842.5" stroke="#2f8fbf" stroke-width="1" fill="none"/>
<text x="76.3" y="845.3" font-family="'Liberation Sans','Noto Sans CJK SC',sans-serif" font-size="32" fill="#008000" textLength="69" lengthAdjust="spacingAndGlyphs" >0.965</text>
<circle cx="2" cy="793.5" r="6.3" fill="#fff" stroke="#000" stroke-width="4"/>
<polygon points="12,789.5 18,794 12,799" fill="#000"/>
<path d="M2425 1002.5H2437M2437 1002.5L2425 1016" stroke="#33bbcc" stroke-width="1.5" fill="none"/>
</svg>
</body></html>
